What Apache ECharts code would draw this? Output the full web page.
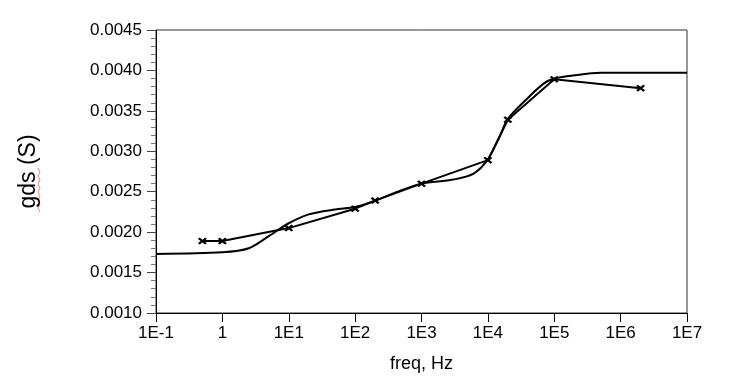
<!DOCTYPE html>
<html>
<head>
<meta charset="utf-8">
<script src="https://cdn.jsdelivr.net/npm/echarts@6/dist/echarts.min.js"></script>
<style>
  html, body { margin: 0; padding: 0; background: #fff; }
  #chart { width: 750px; height: 385px; }
</style>
</head>
<body>
<div id="chart"></div>
<script>
  // measured gds (x markers)
  var measFreq = [0.5, 1, 10, 100, 200, 1000, 1e4, 2e4, 1e5, 2e6];
  var measGds = [0.00189, 0.00189, 0.00205, 0.00229, 0.00239, 0.00260, 0.00289, 0.00339, 0.00389, 0.00378];

  // model curve
  var modelFreq = [0.1, 1, 2.5, 5, 10, 20, 50, 100, 200, 500, 1000, 3000, 6000, 1e4, 1.5e4, 2e4, 4e4, 7e4, 1e5, 2e5, 5e5, 1e6, 1e7];
  var modelGds = [0.00173, 0.00175, 0.00180, 0.00195, 0.00211, 0.00222, 0.00228, 0.00231, 0.00239, 0.00252, 0.00260, 0.00265, 0.00272, 0.00290, 0.00318, 0.00340, 0.00366, 0.00384, 0.00390, 0.00394, 0.00397, 0.00397, 0.00397];

  var xTickLabels = ['1E-1', '1', '1E1', '1E2', '1E3', '1E4', '1E5', '1E6', '1E7'];

  function pairs(xs, ys) {
    var out = [];
    for (var i = 0; i < xs.length; i++) out.push([xs[i], ys[i]]);
    return out;
  }

  var font = 'Arial, "Liberation Sans", sans-serif';
  var cross = 'path://M0,2L2,0L5,3L8,0L10,2L7,5L10,8L8,10L5,7L2,10L0,8L3,5Z';

  var chart = echarts.init(document.getElementById('chart'));

  var option = {
    animation: false,
    grid: {
      show: true,
      left: 156,
      right: 63,
      top: 30,
      bottom: 72,
      borderColor: '#333',
      borderWidth: 1
    },
    graphic: [
      {
        // spell-check squiggle under "gds"
        type: 'polyline',
        shape: { points: [[38, 168], [40, 172], [38, 176], [40, 180], [38, 184], [40, 188], [38, 192], [40, 196], [38, 200], [40, 204], [38, 208], [40, 212]] },
        style: { stroke: '#e06060', lineWidth: 0.8, fill: null }
      }
    ],
    xAxis: {
      type: 'log',
      logBase: 10,
      min: 0.1,
      max: 1e7,
      name: 'freq, Hz',
      nameLocation: 'middle',
      nameGap: 42,
      nameTextStyle: { fontFamily: font, fontSize: 18, color: '#000' },
      axisLine: { lineStyle: { color: '#000', width: 1 } },
      axisTick: { show: true, length: 9, lineStyle: { color: '#000' } },
      minorTick: { show: false },
      splitLine: { show: false },
      axisLabel: {
        margin: 12,
        fontFamily: font,
        fontSize: 17,
        color: '#000',
        formatter: function (v) {
          var e = Math.round(Math.log10(v));
          return xTickLabels[e + 1];
        }
      }
    },
    yAxis: {
      type: 'value',
      min: 0.001,
      max: 0.0045,
      interval: 0.0005,
      name: 'gds (S)',
      nameLocation: 'middle',
      nameGap: 116,
      nameRotate: 90,
      nameTextStyle: { fontFamily: font, fontSize: 23, color: '#000' },
      axisLine: { show: true, lineStyle: { color: '#000', width: 1 } },
      axisTick: { show: true, length: 9, lineStyle: { color: '#444' } },
      minorTick: { show: true, splitNumber: 5, length: 5, lineStyle: { color: '#777' } },
      splitLine: { show: false },
      axisLabel: {
        margin: 14,
        fontFamily: font,
        fontSize: 17,
        color: '#000',
        formatter: function (v) { return v.toFixed(4); }
      }
    },
    series: [
      {
        name: 'model',
        type: 'line',
        data: pairs(modelFreq, modelGds),
        smooth: 0.3,
        showSymbol: false,
        lineStyle: { color: '#000', width: 2 }
      },
      {
        name: 'measured',
        type: 'line',
        data: pairs(measFreq, measGds),
        symbol: cross,
        symbolSize: [9, 7],
        itemStyle: { color: '#000' },
        lineStyle: { color: '#000', width: 2 }
      }
    ]
  };

  chart.setOption(option);
</script>
</body>
</html>
